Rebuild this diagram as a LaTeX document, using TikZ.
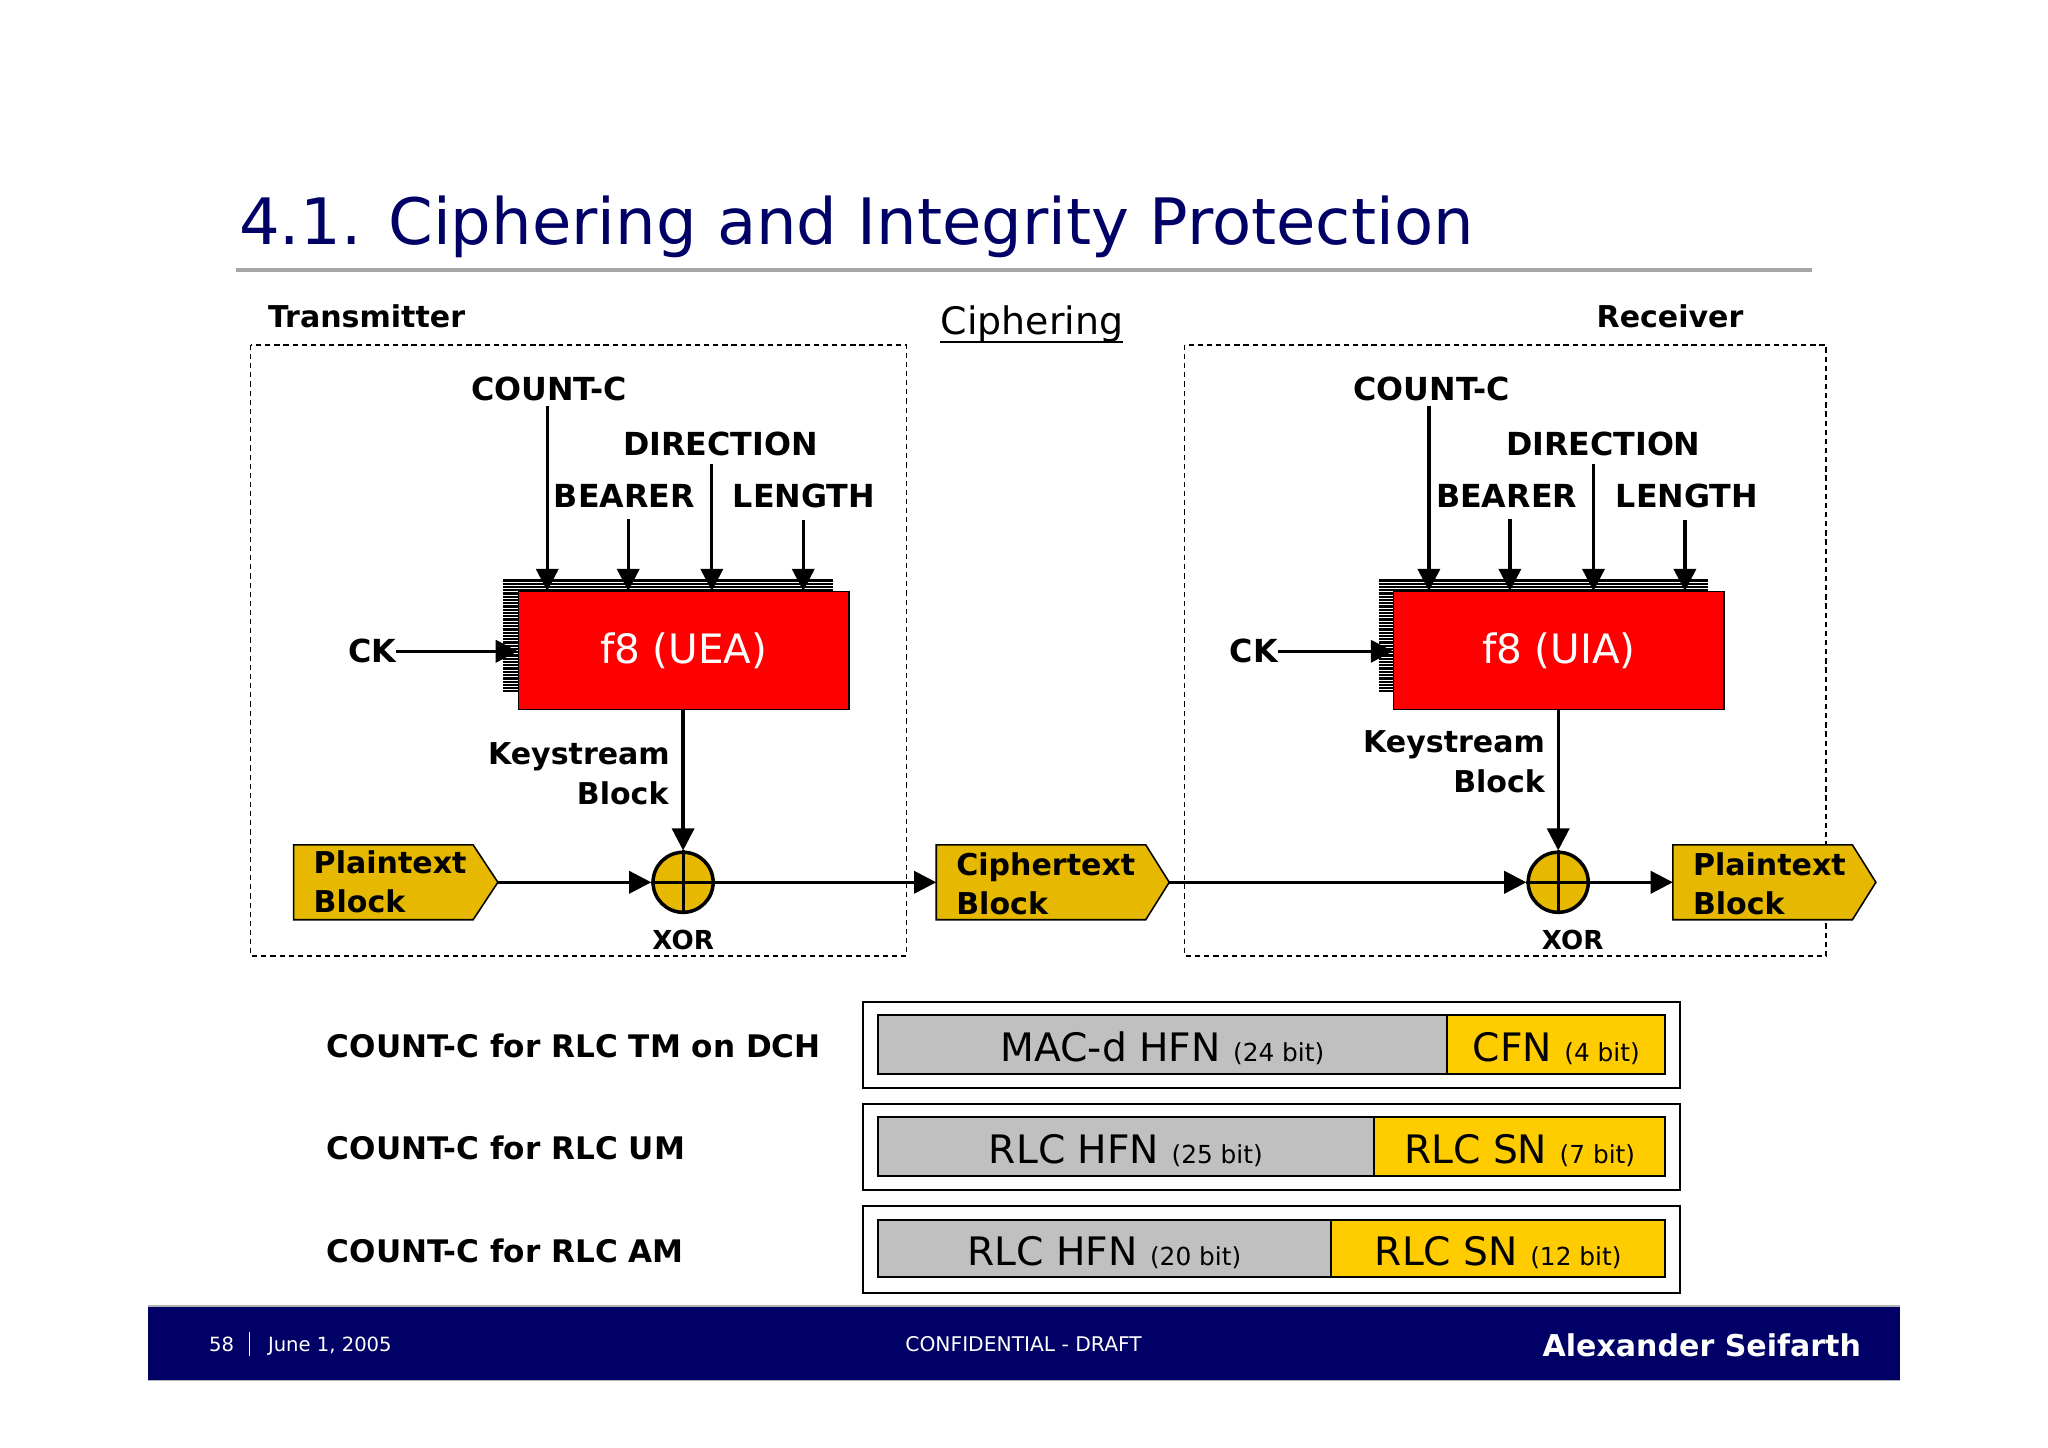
\documentclass[tikz,border=0pt]{standalone}
\usepackage{fontspec}
\setmainfont{DejaVu Sans}
\usetikzlibrary{arrows.meta,calc}
\definecolor{navy}{RGB}{0,0,102}
\definecolor{gold}{RGB}{230,184,0}
\definecolor{bary}{RGB}{255,204,0}
\definecolor{barg}{RGB}{192,192,192}
\definecolor{rulegray}{RGB}{166,166,166}
\tikzset{
  lbl/.style={font=\bfseries\fontsize{23}{27}\selectfont, inner sep=0pt},
  caplbl/.style={font=\bfseries\fontsize{24.3}{28}\selectfont, inner sep=0pt},
  rowlbl/.style={font=\bfseries\fontsize{23.8}{28}\selectfont, inner sep=0pt},
  xorlbl/.style={font=\bfseries\fontsize{20}{24}\selectfont, inner sep=0pt},
  arr/.style={line width=2.5pt, -{Triangle[length=17pt,width=17pt]}},
  f8box/.style={rectangle, minimum width=253pt, minimum height=90pt, inner sep=0pt,
    fill=red, draw=black, line width=1pt, text=white, font=\fontsize{31}{31}\selectfont},
  xorc/.style={circle, minimum size=46pt, inner sep=0pt, fill=gold, draw=black, line width=2.7pt},
  blkarea/.style={rectangle, inner sep=0pt, minimum height=57pt},
  blkdraw/.style={fill=gold, draw=black, line width=1.2pt},
  dashbox/.style={draw=black, line width=1.1pt, dash pattern=on 4pt off 3pt},
  outerbox/.style={draw=black, line width=1.5pt, fill=white},
  greybar/.style={fill=barg, draw=black, line width=1.5pt},
  yellowbar/.style={fill=bary, draw=black, line width=1.5pt},
  bigt/.style={inner sep=0pt, font=\fontsize{30}{30}\selectfont},
  foot/.style={inner sep=0pt, text=white, font=\fontsize{15}{15}\selectfont},
}
\newcommand{\smallbit}[1]{{\fontsize{19}{19}\selectfont #1}}
\begin{document}
\begin{tikzpicture}[x=1pt,y=-1pt]
\useasboundingbox (0,0) rectangle (1568,1108);
\fill[white] (0,0) rectangle (1568,1108);

% Title
\node[anchor=base west, inner sep=0pt, text=navy, font=\fontsize{49}{52}\selectfont] (title) at (183,187) {4.1. Ciphering and Integrity Protection};
\draw[rulegray, line width=3pt] (181,207) -- (1387,207);

% Headers
\node[lbl, anchor=base west] (tx) at (205,251) {Transmitter};
\node[anchor=base west, inner sep=0pt, font=\fontsize{29}{32}\selectfont] (ciph) at (720,256) {Ciphering};
\draw[line width=1.5pt] ($(ciph.base west)+(0,6)$) -- ($(ciph.base east)+(0,6)$);
\node[lbl, anchor=base east] (rx) at (1335,251) {Receiver};

% Dashed boxes
\draw[dashbox] (192,264) rectangle (694,732);
\draw[dashbox] (907,264) rectangle (1398,732);

% ---------- Transmitter ----------
\fill[black] (385,443) rectangle (638,530);
\foreach \yy in {445.5,448,...,530} { \draw[white, line width=0.5pt] (385,\yy) -- (638,\yy); }
\node[f8box] (f8a) at (523.5,498) {f8 (UEA)};

\node[caplbl, anchor=base] (cnt1) at (420.5,307) {COUNT-C};
\node[caplbl, anchor=base] (dir1) at (551.5,348.5) {DIRECTION};
\node[caplbl, anchor=base] (bea1) at (478,388.5) {BEARER};
\node[caplbl, anchor=base] (len1) at (615.5,388.5) {LENGTH};
\node[caplbl, anchor=base] (ck1) at (285,507.5) {CK};

\coordinate (c1s) at ($(cnt1.south)+(-1.5,3)$);
\coordinate (d1s) at ($(dir1.south)+(-6.5,6)$);
\coordinate (b1s) at ($(bea1.south)+(3,9)$);
\coordinate (l1s) at ($(len1.south)+(-0.5,9)$);
\draw[arr] (c1s) -- (c1s |- f8a.north);
\draw[arr] (d1s) -- (d1s |- f8a.north);
\draw[arr] (b1s) -- (b1s |- f8a.north);
\draw[arr] (l1s) -- (l1s |- f8a.north);
\draw[arr] (ck1.east) -- (ck1.east -| f8a.west);

\node[lbl, anchor=base east] (ks1) at (513,585) {Keystream};
\node[lbl, anchor=base east] (kb1) at (512,616) {Block};

\node[xorc] (xor1) at (523,675.5) {};
\draw[line width=2.3pt] (xor1.north) -- (xor1.south) (xor1.west) -- (xor1.east);
\node[xorlbl, anchor=base] (xl1) at (523,727) {XOR};
\draw[arr] (f8a.south -| xor1.north) -- (xor1.north);

\node[blkarea, minimum width=156pt] (pt1) at (303,675.5) {};
\draw[blkdraw] (pt1.north west) -- ($(pt1.north east)+(-19,0)$) -- (pt1.east) -- ($(pt1.south east)+(-19,0)$) -- (pt1.south west) -- cycle;
\node[lbl, anchor=base west] (pt1a) at (240,669) {Plaintext};
\node[lbl, anchor=base west] (pt1b) at (240,699) {Block};

% Ciphertext
\node[blkarea, minimum width=178pt] (ct) at (806,675.5) {};
\draw[blkdraw] (ct.north west) -- ($(ct.north east)+(-18,0)$) -- (ct.east) -- ($(ct.south east)+(-18,0)$) -- (ct.south west) -- cycle;
\node[lbl, anchor=base west] (cta) at (732,670) {Ciphertext};
\node[lbl, anchor=base west] (ctb) at (732,700) {Block};

% ---------- Receiver ----------
\fill[black] (1056,443) rectangle (1308,530);
\foreach \yy in {445.5,448,...,530} { \draw[white, line width=0.5pt] (1056,\yy) -- (1308,\yy); }
\node[f8box] (f8b) at (1193.5,498) {f8 (UIA)};

\node[caplbl, anchor=base] (cnt2) at (1096,307) {COUNT-C};
\node[caplbl, anchor=base] (dir2) at (1227.5,348.5) {DIRECTION};
\node[caplbl, anchor=base] (bea2) at (1153.5,388.5) {BEARER};
\node[caplbl, anchor=base] (len2) at (1291.5,388.5) {LENGTH};
\node[caplbl, anchor=base] (ck2) at (960,507.5) {CK};

\coordinate (c2s) at ($(cnt2.south)+(-2,3)$);
\coordinate (d2s) at ($(dir2.south)+(-7.5,6)$);
\coordinate (b2s) at ($(bea2.south)+(2.5,9)$);
\coordinate (l2s) at ($(len2.south)+(-1.5,9)$);
\draw[arr] (c2s) -- (c2s |- f8b.north);
\draw[arr] (d2s) -- (d2s |- f8b.north);
\draw[arr] (b2s) -- (b2s |- f8b.north);
\draw[arr] (l2s) -- (l2s |- f8b.north);
\draw[arr] (ck2.east) -- (ck2.east -| f8b.west);

\node[lbl, anchor=base east] (ks2) at (1183,576) {Keystream};
\node[lbl, anchor=base east] (kb2) at (1183,607) {Block};

\node[xorc] (xor2) at (1193,675.5) {};
\draw[line width=2.3pt] (xor2.north) -- (xor2.south) (xor2.west) -- (xor2.east);
\node[xorlbl, anchor=base] (xl2) at (1204,727) {XOR};
\draw[arr] (f8b.south -| xor2.north) -- (xor2.north);

\node[blkarea, minimum width=155pt] (pt2) at (1358.5,675.5) {};
\draw[blkdraw] (pt2.north west) -- ($(pt2.north east)+(-18,0)$) -- (pt2.east) -- ($(pt2.south east)+(-18,0)$) -- (pt2.south west) -- cycle;
\node[lbl, anchor=base west] (pt2a) at (1296,670) {Plaintext};
\node[lbl, anchor=base west] (pt2b) at (1296,700) {Block};

% data path
\draw[arr] (pt1.east) -- (xor1.west);
\draw[arr] (xor1.east) -- (ct.west);
\draw[arr] (ct.east) -- (xor2.west);
\draw[arr] (xor2.east) -- (pt2.west);

% ---------- COUNT-C formats ----------
\node[rowlbl, anchor=base west] (r1) at (250,809.5) {COUNT-C for RLC TM on DCH};
\node[rowlbl, anchor=base west] (r2) at (250,887.5) {COUNT-C for RLC UM};
\node[rowlbl, anchor=base west] (r3) at (250,966.5) {COUNT-C for RLC AM};

\draw[outerbox] (661,767) rectangle (1286,833);
\draw[greybar] (672,777) rectangle (1108,822);
\draw[yellowbar] (1108,777) rectangle (1275,822);
\node[bigt, anchor=base] (h1) at (890,813) {MAC-d HFN \smallbit{(24 bit)}};
\node[bigt, anchor=base] (s1) at (1191.5,813) {CFN \smallbit{(4 bit)}};

\draw[outerbox] (661,845) rectangle (1286,911);
\draw[greybar] (672,855) rectangle (1052,900);
\draw[yellowbar] (1052,855) rectangle (1275,900);
\node[bigt, anchor=base] (h2) at (862,891) {RLC HFN \smallbit{(25 bit)}};
\node[bigt, anchor=base] (s2) at (1163.5,891) {RLC SN \smallbit{(7 bit)}};

\draw[outerbox] (661,923) rectangle (1286,990);
\draw[greybar] (672,934) rectangle (1019,978);
\draw[yellowbar] (1019,934) rectangle (1275,978);
\node[bigt, anchor=base] (h3) at (845.5,969) {RLC HFN \smallbit{(20 bit)}};
\node[bigt, anchor=base] (s3) at (1147,969) {RLC SN \smallbit{(12 bit)}};

% ---------- Footer ----------
\fill[navy] (113,1000) rectangle (1455,1057);
\draw[gray!60, line width=1pt] (113,1000) -- (1455,1000) (113,1057) -- (1455,1057);
\node[foot, anchor=base west] (pg) at (160,1034.5) {58};
\draw[white, line width=1pt] (191,1020) -- (191,1038);
\node[foot, anchor=base west] (dt) at (205,1034.5) {June 1, 2005};
\node[foot, anchor=base west, font=\fontsize{15.5}{16}\selectfont] (conf) at (693,1034.5) {CONFIDENTIAL - DRAFT};
\node[inner sep=0pt, text=white, font=\bfseries\fontsize{23}{25}\selectfont, anchor=base east] (auth) at (1425,1038.5) {Alexander Seifarth};
\end{tikzpicture}
\end{document}
